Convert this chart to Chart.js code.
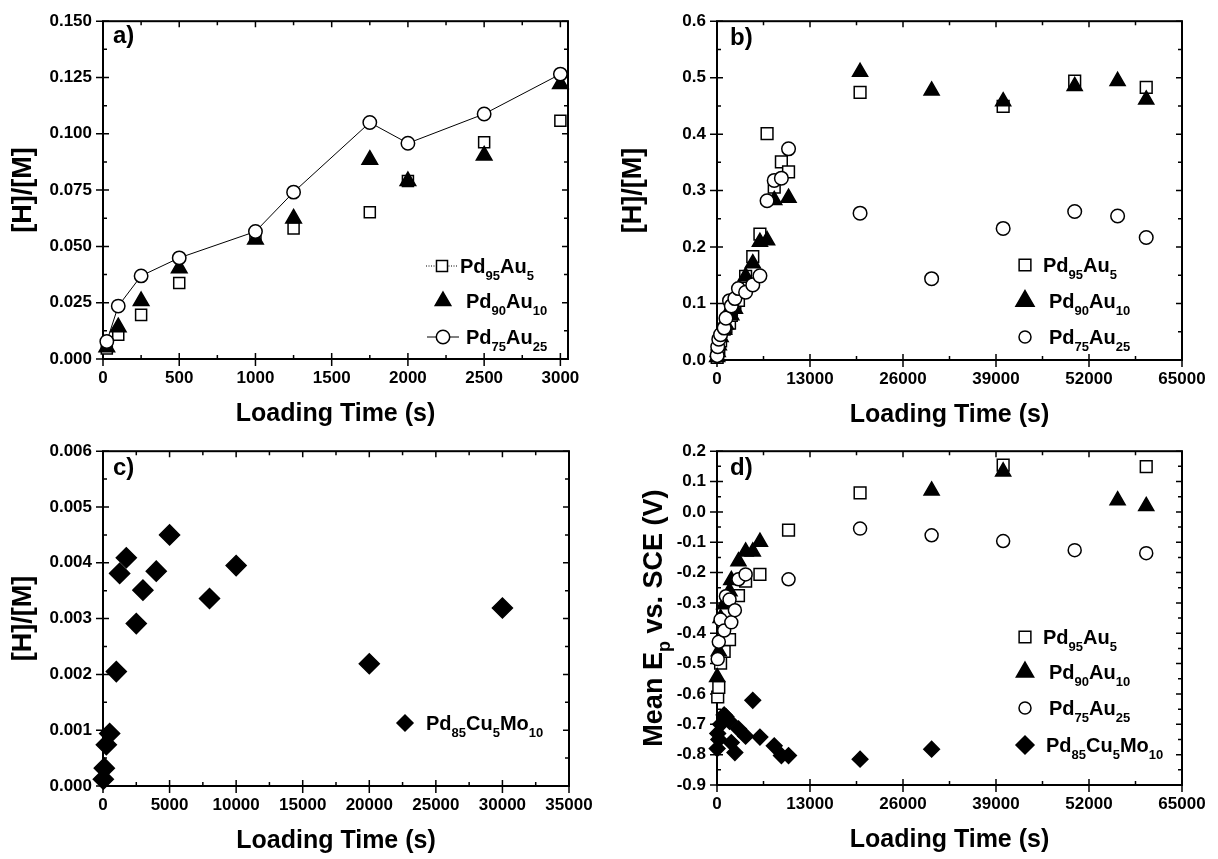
<!DOCTYPE html>
<html>
<head>
<meta charset="utf-8">
<title>Hydrogen loading vs loading time</title>
<script src="https://cdn.jsdelivr.net/npm/chart.js@4.4.1/dist/chart.umd.min.js"></script>
<style>
  html, body { margin: 0; padding: 0; background: #fff; }
  body { width: 1218px; height: 859px; position: relative; overflow: hidden; }
  canvas { position: absolute; }
</style>
</head>
<body>
<canvas id="panelA" width="609" height="430" style="left:0;top:0"></canvas>
<canvas id="panelB" width="609" height="430" style="left:609px;top:0"></canvas>
<canvas id="panelC" width="609" height="429" style="left:0;top:430px"></canvas>
<canvas id="panelD" width="609" height="429" style="left:609px;top:430px"></canvas>
<script>
const FONT = "'Liberation Sans', Arial, Helvetica, sans-serif";
Chart.defaults.font.family = FONT;
Chart.defaults.color = '#000';

// --- labels (name pieces: [text, isSubscript])
const nPd95Au5 = [['Pd', 0], ['95', 1], ['Au', 0], ['5', 1]];
const nPd90Au10 = [['Pd', 0], ['90', 1], ['Au', 0], ['10', 1]];
const nPd75Au25 = [['Pd', 0], ['75', 1], ['Au', 0], ['25', 1]];
const nPd85Cu5Mo10 = [['Pd', 0], ['85', 1], ['Cu', 0], ['5', 1], ['Mo', 0], ['10', 1]];
const xTitle = 'Loading Time (s)';
const yTitleHM = [['[H]/[M]', 0]];
const yTitleEp = [['Mean E', 0], ['p', 1], [' vs. SCE (V)', 0]];

// --- tick values
const aXTicks = [0, 500, 1000, 1500, 2000, 2500, 3000];
const aYTicks = [0, 0.025, 0.05, 0.075, 0.1, 0.125, 0.15];
const bXTicks = [0, 13000, 26000, 39000, 52000, 65000];
const bYTicks = [0, 0.1, 0.2, 0.3, 0.4, 0.5, 0.6];
const cXTicks = [0, 5000, 10000, 15000, 20000, 25000, 30000, 35000];
const cYTicks = [0, 0.001, 0.002, 0.003, 0.004, 0.005, 0.006];
const dXTicks = [0, 13000, 26000, 39000, 52000, 65000];
const dYTicks = [-0.9, -0.8, -0.7, -0.6, -0.5, -0.4, -0.3, -0.2, -0.1, 0, 0.1, 0.2];

// --- a) short loading times, [H]/[M]
const aTime = [25, 100, 250, 500, 1000, 1250, 1750, 2000, 2500, 3000];
const aPd95Au5 = [0.0047, 0.0108, 0.0196, 0.0337, 0.0545, 0.0580, 0.0652, 0.0790, 0.0962, 0.1058];
const aPd90Au10 = [0.0052, 0.0141, 0.0257, 0.0403, 0.0531, 0.0624, 0.0885, 0.0790, 0.0904, 0.1221];
const aPd75Au25 = [0.0078, 0.0235, 0.0369, 0.0449, 0.0566, 0.0741, 0.1050, 0.0958, 0.1088, 0.1265];

// --- b) long loading times, [H]/[M]
const bTimeSq = [25, 100, 250, 500, 1000, 1250, 1750, 2000, 2500, 3000, 4000, 5000, 6000, 7000, 8000, 9000, 10000, 20000, 40000, 50000, 60000];
const bPd95Au5 = [0.0047, 0.0108, 0.0196, 0.0337, 0.0545, 0.058, 0.0652, 0.079, 0.0962, 0.1058, 0.148, 0.183, 0.223, 0.401, 0.306, 0.351, 0.333, 0.474, 0.449, 0.494, 0.483];
const bTimeTri = [25, 100, 250, 500, 1000, 1250, 1750, 2000, 2500, 3000, 4000, 5000, 6000, 7000, 8000, 10000, 20000, 30000, 40000, 50000, 56000, 60000];
const bPd90Au10 = [0.0052, 0.0141, 0.0257, 0.0403, 0.0531, 0.0624, 0.0885, 0.079, 0.0904, 0.1221, 0.148, 0.171, 0.209, 0.212, 0.283, 0.287, 0.510, 0.477, 0.458, 0.485, 0.494, 0.461];
const bTimeCir = [25, 100, 250, 500, 1000, 1250, 1750, 2000, 2500, 3000, 4000, 5000, 6000, 7000, 8000, 9000, 10000, 20000, 30000, 40000, 50000, 56000, 60000];
const bPd75Au25 = [0.0078, 0.0235, 0.0369, 0.0449, 0.0566, 0.0741, 0.105, 0.0958, 0.1088, 0.1265, 0.120, 0.133, 0.149, 0.282, 0.318, 0.322, 0.374, 0.260, 0.144, 0.233, 0.263, 0.255, 0.217];

// --- c) Pd85Cu5Mo10, [H]/[M]
const cTime = [25, 100, 250, 500, 1000, 1250, 1750, 2500, 3000, 4000, 5000, 8000, 10000, 20000, 30000];
const cPd85Cu5Mo10 = [0.00012, 0.00032, 0.00074, 0.00094, 0.00205, 0.00381, 0.00409, 0.00291, 0.00351, 0.00385, 0.0045, 0.00336, 0.00395, 0.00219, 0.00319];

// --- d) mean Ep vs SCE
const dTimeSq = [100, 250, 500, 1000, 1750, 3000, 4000, 6000, 10000, 20000, 40000, 60000];
const dPd95Au5 = [-0.610, -0.578, -0.498, -0.460, -0.421, -0.276, -0.228, -0.206, -0.060, 0.063, 0.154, 0.149];
const dTimeTri = [25, 250, 500, 1000, 1750, 2000, 3000, 4000, 5000, 6000, 30000, 40000, 56000, 60000];
const dPd90Au10 = [-0.545, -0.46, -0.35, -0.305, -0.262, -0.225, -0.163, -0.131, -0.131, -0.099, 0.070, 0.133, 0.038, 0.019];
const dTimeCir = [100, 250, 500, 1000, 1250, 1750, 2000, 2500, 3000, 4000, 10000, 20000, 30000, 40000, 50000, 60000];
const dPd75Au25 = [-0.485, -0.428, -0.355, -0.391, -0.278, -0.289, -0.364, -0.324, -0.222, -0.206, -0.222, -0.055, -0.077, -0.096, -0.126, -0.136];
const dTimeDia = [25, 100, 250, 500, 1000, 1250, 1750, 2000, 2500, 3000, 4000, 5000, 6000, 8000, 9000, 10000, 20000, 30000];
const dPd85Cu5Mo10 = [-0.78, -0.73, -0.75, -0.70, -0.669, -0.675, -0.69, -0.76, -0.793, -0.715, -0.739, -0.621, -0.742, -0.771, -0.803, -0.803, -0.815, -0.782];

function pts(xs, ys) {
  return xs.map((x, i) => ({ x, y: ys[i] }));
}

function series(xs, ys, shape, r, filled, order, extra) {
  return Object.assign({
    data: pts(xs, ys),
    pointStyle: shape,
    pointRadius: r,
    pointHoverRadius: r,
    pointBorderWidth: 1.5,
    pointBorderColor: '#000',
    pointBackgroundColor: filled ? '#000' : '#fff',
    showLine: false,
    clip: false,
    order
  }, extra || {});
}

function mids(arr) {
  const out = [];
  for (let i = 1; i < arr.length; i++) out.push((arr[i - 1] + arr[i]) / 2);
  return out;
}

function richWidth(ctx, parts, size, subSize) {
  let w = 0;
  parts.forEach(([t, sub]) => {
    ctx.font = `bold ${sub ? subSize : size}px ${FONT}`;
    w += ctx.measureText(t).width;
  });
  return w;
}

function drawRich(ctx, parts, x, y, size, subSize, subDy) {
  let cx = x;
  ctx.textAlign = 'left';
  ctx.textBaseline = 'alphabetic';
  parts.forEach(([t, sub]) => {
    ctx.font = `bold ${sub ? subSize : size}px ${FONT}`;
    ctx.fillText(t, cx, sub ? y + subDy : y);
    cx += ctx.measureText(t).width;
  });
}

function panelPlugin(p) {
  return {
    id: 'panel',
    beforeDatasetsDraw(chart) {
      const { ctx, chartArea: a, scales: { x, y } } = chart;
      ctx.save();
      ctx.strokeStyle = '#000';
      ctx.lineWidth = 1.5;
      ctx.beginPath();
      p.xTicks.forEach(v => {
        const px = x.getPixelForValue(v);
        ctx.moveTo(px, a.bottom + 7); ctx.lineTo(px, a.bottom - 6);
        ctx.moveTo(px, a.top); ctx.lineTo(px, a.top + 6);
      });
      mids(p.xTicks).forEach(v => {
        const px = x.getPixelForValue(v);
        ctx.moveTo(px, a.bottom); ctx.lineTo(px, a.bottom - 4);
        ctx.moveTo(px, a.top); ctx.lineTo(px, a.top + 4);
      });
      p.yTicks.forEach(v => {
        const py = y.getPixelForValue(v);
        ctx.moveTo(a.left - 7, py); ctx.lineTo(a.left + 6, py);
        ctx.moveTo(a.right, py); ctx.lineTo(a.right - 6, py);
      });
      mids(p.yTicks).forEach(v => {
        const py = y.getPixelForValue(v);
        ctx.moveTo(a.left, py); ctx.lineTo(a.left + 4, py);
        ctx.moveTo(a.right, py); ctx.lineTo(a.right - 4, py);
      });
      ctx.stroke();
      ctx.lineWidth = 2;
      ctx.strokeRect(a.left, a.top, a.right - a.left, a.bottom - a.top);
      ctx.restore();
    },
    afterDraw(chart) {
      const { ctx, chartArea: a } = chart;
      ctx.save();
      ctx.fillStyle = '#000';
      // panel tag
      ctx.font = `bold 24px ${FONT}`;
      ctx.textAlign = 'left';
      ctx.textBaseline = 'alphabetic';
      ctx.fillText(p.tag, p.tagX, p.tagY);
      // x title
      ctx.font = `bold 25px ${FONT}`;
      ctx.textAlign = 'center';
      ctx.fillText(xTitle, (a.left + a.right) / 2, p.xTitleY);
      // y title (rotated)
      ctx.save();
      ctx.translate(p.yTitleX, (a.top + a.bottom) / 2);
      ctx.rotate(-Math.PI / 2);
      const w = richWidth(ctx, p.yTitle, 27, 18);
      drawRich(ctx, p.yTitle, -w / 2, 9.5, 27, 18, 8);
      ctx.restore();
      // legend
      p.legend.forEach(it => {
        ctx.strokeStyle = '#000';
        if (it.line) {
          ctx.beginPath();
          ctx.lineWidth = 1;
          ctx.setLineDash(it.line === 'dot' ? [1, 1.5] : []);
          ctx.moveTo(it.x - 16, it.y);
          ctx.lineTo(it.x + 16, it.y);
          ctx.stroke();
          ctx.setLineDash([]);
        }
        ctx.fillStyle = it.filled ? '#000' : '#fff';
        ctx.lineWidth = 1.5;
        Chart.helpers.drawPoint(ctx, { pointStyle: it.shape, radius: it.r, rotation: 0, borderWidth: 1.5 }, it.x, it.y);
        ctx.fillStyle = '#000';
        drawRich(ctx, it.name, it.tx, it.y + 7, 20, 13, 7);
      });
      ctx.restore();
    }
  };
}

function axisOpts(min, max, ticks, fmt, fit, pad) {
  return {
    type: 'linear',
    min, max,
    afterBuildTicks: s => { s.ticks = ticks.map(v => ({ value: v })); },
    afterFit: fit,
    grid: { display: false, drawTicks: false },
    border: { display: false },
    ticks: {
      callback: fmt,
      padding: pad,
      autoSkip: false,
      maxRotation: 0,
      color: '#000',
      font: { size: 17, weight: 'bold' }
    }
  };
}

function buildPanel(id, p) {
  const cv = document.getElementById(id);
  const W = cv.width, H = cv.height;
  return new Chart(cv, {
    type: 'scatter',
    data: { datasets: p.datasets },
    options: {
      responsive: false,
      animation: false,
      events: [],
      devicePixelRatio: 1,
      layout: { padding: { top: p.area.top, right: W - p.area.right, left: 0, bottom: 0 } },
      plugins: { legend: { display: false }, tooltip: { enabled: false } },
      scales: {
        x: axisOpts(p.xMin, p.xMax, p.xTicks, v => String(v), s => { s.height = H - p.area.bottom; }, 9),
        y: axisOpts(p.yMin, p.yMax, p.yTicks, p.yFmt, s => { s.width = p.area.left; }, 11)
      }
    },
    plugins: [panelPlugin(p)]
  });
}

buildPanel('panelA', {
  area: { left: 103, top: 15, right: 568, bottom: 359 },
  xMin: 0, xMax: 3050, xTicks: aXTicks,
  yMin: 0, yMax: 0.15, yTicks: aYTicks, yFmt: v => v.toFixed(3),
  tag: 'a)', tagX: 113, tagY: 43, xTitleY: 421, yTitleX: 21, yTitle: yTitleHM,
  datasets: [
    series(aTime, aPd95Au5, 'rect', 7.8, false, 3),
    series(aTime, aPd90Au10, 'triangle', 9, true, 2),
    series(aTime, aPd75Au25, 'circle', 6.7, false, 1, { showLine: true, borderColor: '#000', borderWidth: 1 })
  ],
  legend: [
    { name: nPd95Au5, shape: 'rect', r: 7.8, filled: false, x: 442, y: 266, tx: 460, line: 'dot' },
    { name: nPd90Au10, shape: 'triangle', r: 9, filled: true, x: 443, y: 301, tx: 466 },
    { name: nPd75Au25, shape: 'circle', r: 6.7, filled: false, x: 443, y: 337, tx: 466, line: 'solid' }
  ]
});

buildPanel('panelB', {
  area: { left: 108, top: 15, right: 573, bottom: 360 },
  xMin: 0, xMax: 65000, xTicks: bXTicks,
  yMin: 0, yMax: 0.6, yTicks: bYTicks, yFmt: v => v.toFixed(1),
  tag: 'b)', tagX: 121, tagY: 45, xTitleY: 422, yTitleX: 22, yTitle: yTitleHM,
  datasets: [
    series(bTimeSq, bPd95Au5, 'rect', 8.3, false, 3),
    series(bTimeTri, bPd90Au10, 'triangle', 8.7, true, 2),
    series(bTimeCir, bPd75Au25, 'circle', 6.8, false, 1)
  ],
  legend: [
    { name: nPd95Au5, shape: 'rect', r: 8.3, filled: false, x: 416, y: 265, tx: 434 },
    { name: nPd90Au10, shape: 'triangle', r: 10.5, filled: true, x: 416, y: 301, tx: 440 },
    { name: nPd75Au25, shape: 'circle', r: 6, filled: false, x: 416, y: 337, tx: 440 }
  ]
});

buildPanel('panelC', {
  area: { left: 103, top: 14, right: 569, bottom: 356 },
  xMin: 0, xMax: 35000, xTicks: cXTicks,
  yMin: 0, yMax: 0.006, yTicks: cYTicks, yFmt: v => v.toFixed(3),
  tag: 'c)', tagX: 113, tagY: 45, xTitleY: 418, yTitleX: 21, yTitle: yTitleHM,
  datasets: [
    series(cTime, cPd85Cu5Mo10, 'rectRot', 10, true, 1)
  ],
  legend: [
    { name: nPd85Cu5Mo10, shape: 'rectRot', r: 8, filled: true, x: 405, y: 293, tx: 426 }
  ]
});

buildPanel('panelD', {
  area: { left: 108, top: 13, right: 573, bottom: 355 },
  xMin: 0, xMax: 65000, xTicks: dXTicks,
  yMin: -0.9, yMax: 0.2, yTicks: dYTicks, yFmt: v => v.toFixed(1),
  tag: 'd)', tagX: 121, tagY: 45, xTitleY: 417, yTitleX: 43, yTitle: yTitleEp,
  datasets: [
    series(dTimeSq, dPd95Au5, 'rect', 8.3, false, 3),
    series(dTimeTri, dPd90Au10, 'triangle', 8.7, true, 2),
    series(dTimeCir, dPd75Au25, 'circle', 6.5, false, 1),
    series(dTimeDia, dPd85Cu5Mo10, 'rectRot', 7.8, true, 4)
  ],
  legend: [
    { name: nPd95Au5, shape: 'rect', r: 8.3, filled: false, x: 416, y: 207, tx: 434 },
    { name: nPd90Au10, shape: 'triangle', r: 10, filled: true, x: 416, y: 242, tx: 440 },
    { name: nPd75Au25, shape: 'circle', r: 6, filled: false, x: 416, y: 278, tx: 440 },
    { name: nPd85Cu5Mo10, shape: 'rectRot', r: 9, filled: true, x: 416, y: 315, tx: 437 }
  ]
});
</script>
</body>
</html>
